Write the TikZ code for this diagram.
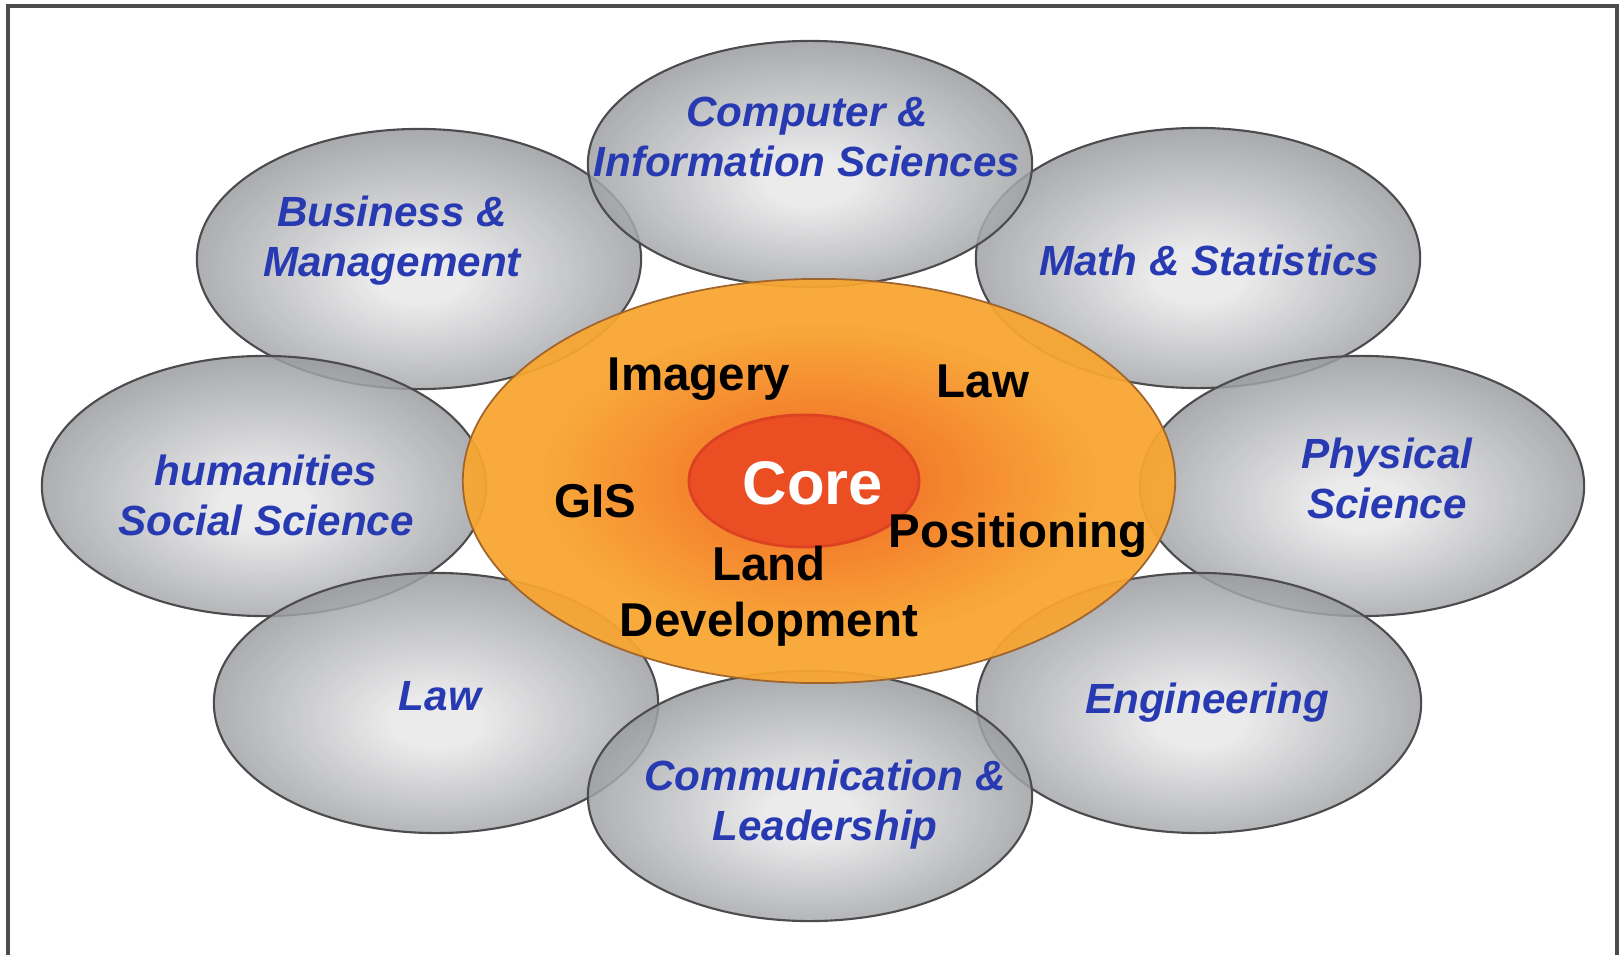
\documentclass[tikz,border=0pt]{standalone}
\usepackage{fontspec}
\setmainfont{Liberation Sans}
\usetikzlibrary{shapes.geometric}
\usetikzlibrary{positioning}
\definecolor{fieldblue}{RGB}{40,58,178}
\definecolor{bubblein}{RGB}{231,231,232}
\definecolor{bubbleout}{RGB}{152,154,158}
\definecolor{corein}{RGB}{236,88,28}
\definecolor{coremid}{RGB}{243,125,32}
\definecolor{coreout}{RGB}{248,166,48}
\definecolor{coreedge}{RGB}{160,100,45}
\definecolor{kernel}{RGB}{236,78,36}
\definecolor{kerneledge}{RGB}{220,66,34}
\pgfdeclareradialshading{bubble}{\pgfpoint{0bp}{-4bp}}{color(0bp)=(bubblein); color(5bp)=(bubblein); color(27bp)=(bubbleout); color(50bp)=(bubbleout)}
\pgfdeclareradialshading{glow}{\pgfpoint{0bp}{0bp}}{color(0bp)=(corein); color(9bp)=(coremid); color(20bp)=(coreout); color(50bp)=(coreout)}
\tikzset{Field/.style={ellipse, draw=black!70, line width=0.6pt, shade, shading=bubble, fill opacity=0.85, inner sep=0pt, minimum width=4.44cm, minimum height=2.6cm},
         FieldText/.style={text=fieldblue, font=\fontsize{12}{14.2}\selectfont\bfseries\itshape, align=center},
         Ring/.style={ellipse, draw=coreedge, line width=0.5pt, shade, shading=glow, fill opacity=0.94, inner sep=0pt},
         Topic/.style={text=black, font=\fontsize{13.5}{16}\selectfont\bfseries, align=center},
         Frame/.style={draw=black!70, line width=0.9pt}}

\begin{document}
\begin{tikzpicture}[x=0.01cm, y=-0.01cm]
    \useasboundingbox (0,0) rectangle (1619,955);
    \draw[Frame] (8,955) -- (8,6) -- (1617,6) -- (1617,955);
    \node[Field] (BM) at (419,259) {};
    \node[Field] (MS) at (1198,258) {};
    \node[Field] (HS) at (264,486) {};
    \node[Field] (PS) at (1362,486) {};
    \node[Field] (LW) at (436,703) {};
    \node[Field] (EN) at (1199,703) {};
    \node[Field, minimum height=2.46cm] (CIS) at (810,164) {};
    \node[Field, minimum height=2.5cm] (CL) at (810,796) {};
    \node[Ring, minimum width=7.12cm, minimum height=4.04cm] (R0) at (819,481) {};
    \node[ellipse, fill=kernel, draw=kerneledge, line width=0.8pt, minimum width=2.3cm, minimum height=1.32cm] (R1) at (804,481) {};
    \node[FieldText] (CIS-t) at (807,137) {Computer \&\\Information Sciences};
    \node[FieldText] (BM-t) at (392,241) {Business \&\\Management};
    \node[FieldText] (MS-t) at (1209,260) {Math \& Statistics};
    \node[FieldText] (HS-t) at (266,495) {humanities\\Social Science};
    \node[FieldText] (PS-t) at (1387,478) {Physical\\Science};
    \node[FieldText] (LW-t) at (440,696) {Law};
    \node[FieldText] (EN-t) at (1207,703) {Engineering};
    \node[FieldText] (CL-t) at (825,805) {Communication \&\\Leadership};
    \node[Topic] (T1) at (699,379) {Imagery};
    \node[Topic] (T2) at (983,381) {Law};
    \node[Topic] (T3) at (595,501) {GIS};
    \node[Topic] (T4) at (1018,535) {Positioning};
    \node[Topic] (T5) at (769,596) {Land\\Development};
    \node[text=white, font=\fontsize{17.5}{20}\selectfont\bfseries] (T0) at (813,483) {Core};
\end{tikzpicture}
\end{document}
